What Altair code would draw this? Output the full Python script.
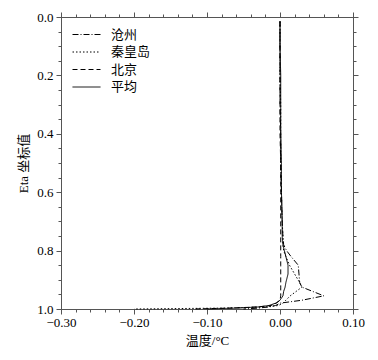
import altair as alt
import pandas as pd

eta = [0.015, 0.1, 0.2, 0.3, 0.4, 0.5, 0.6, 0.7, 0.75, 0.78, 0.80, 0.82, 0.85,
       0.88, 0.91, 0.925, 0.94, 0.955, 0.97, 0.98, 0.988, 0.993, 0.997, 1.0]

cangzhou = [0.000, 0.000, 0.000, 0.000, 0.001, 0.001, 0.002, 0.003, 0.004, 0.005,
            0.009, 0.015, 0.025, 0.026, 0.027, 0.030, 0.045, 0.060, 0.030, 0.000,
            -0.006, -0.015, -0.030, -0.050]
qinhuangdao = [0.000, 0.000, 0.000, 0.001, 0.001, 0.001, 0.002, 0.003, 0.004, 0.004,
               0.005, 0.008, 0.013, 0.020, 0.027, 0.030, 0.022, 0.014, 0.008, 0.004,
               -0.002, -0.020, -0.080, -0.200]
beijing = [0.000, 0.000, 0.000, 0.000, 0.000, 0.001, 0.001, 0.001, 0.001, 0.001,
           0.001, 0.001, 0.001, 0.001, 0.001, 0.001, 0.001, 0.001, 0.000, -0.005,
           -0.012, -0.030, -0.070, -0.120]
average = [0.000, 0.000, 0.001, 0.001, 0.001, 0.002, 0.002, 0.003, 0.003, 0.004,
           0.006, 0.008, 0.011, 0.011, 0.008, 0.007, 0.005, 0.004, 0.000, -0.006,
           -0.015, -0.030, -0.060, -0.100]

names = ["沧州", "秦皇岛", "北京", "平均"]
series = [cangzhou, qinhuangdao, beijing, average]
dashes = [[6, 2, 1, 2], [1.5, 2], [5, 3], [1, 0]]

x_major = [-0.3, -0.2, -0.1, 0.0, 0.1]
x_minor = [-0.28, -0.26, -0.24, -0.22, -0.18, -0.16, -0.14, -0.12, -0.08, -0.06,
           -0.04, -0.02, 0.02, 0.04, 0.06, 0.08]
y_major = [0.0, 0.2, 0.4, 0.6, 0.8, 1.0]
y_minor = [0.05, 0.1, 0.15, 0.25, 0.3, 0.35, 0.45, 0.5, 0.55, 0.65, 0.7, 0.75,
           0.85, 0.9, 0.95]

rows = []
for n, vals in zip(names, series):
    for e, v in zip(eta, vals):
        rows.append({"station": n, "eta": e, "temp": v})
df = pd.DataFrame(rows)

FONT = "Liberation Serif, Noto Sans CJK SC"
AX = "#555555"
xs = alt.Scale(domain=[-0.3, 0.1], nice=False, zero=False)
ys = alt.Scale(domain=[0, 1], reverse=True, nice=False, zero=False)

common = dict(domainColor=AX, tickColor=AX, domainWidth=1, tickWidth=1, grid=False,
              labelFont=FONT, titleFont=FONT, labelColor="black", titleColor="black",
              labelFontSize=13, titleFontSize=13, titleFontWeight="normal",
              labelFlush=False)

def blank_axis(orient, values, size, domain=True):
    return alt.Axis(orient=orient, values=values, tickSize=size, labels=False, title=None,
                    domain=domain, domainColor=AX, tickColor=AX, grid=False, ticks=True)

main = alt.Chart(df).mark_line(color="black", strokeWidth=1).encode(
    x=alt.X("temp:Q", scale=xs,
            axis=alt.Axis(orient="bottom", values=x_major, format=".2f", title="温度/°C",
                          tickSize=5, labelPadding=2, titlePadding=5, **common)),
    y=alt.Y("eta:Q", scale=ys,
            axis=alt.Axis(orient="left", values=y_major, format=".1f", title="Eta 坐标值",
                          tickSize=5, labelPadding=3, titlePadding=6, **common)),
    strokeDash=alt.StrokeDash("station:N", scale=alt.Scale(domain=names, range=dashes),
                              legend=alt.Legend(orient="none", legendX=18, legendY=10, title=None,
                                                symbolType="M-2,0H2", symbolSize=196,
                                                symbolStrokeColor="black", symbolStrokeWidth=1,
                                                symbolFillColor="transparent",
                                                labelFont=FONT, labelFontSize=13,
                                                labelColor="black", rowPadding=2.5,
                                                labelOffset=17)),
    order="eta:Q",
)

def ghost(xa, ya):
    return alt.Chart(df).mark_line(opacity=0).encode(
        x=alt.X("temp:Q", scale=xs, axis=xa),
        y=alt.Y("eta:Q", scale=ys, axis=ya),
        detail="station:N",
        order="eta:Q",
    )

l2 = ghost(blank_axis("bottom", x_minor, 3), blank_axis("left", y_minor, 3))
l3 = ghost(blank_axis("top", x_major, 5), blank_axis("right", y_major, 5))
l4 = ghost(blank_axis("top", x_minor, 3), blank_axis("right", y_minor, 3))

chart = alt.layer(main, l2, l3, l4).resolve_axis(x="independent", y="independent").properties(
    width=292, height=292,
    autosize=alt.AutoSizeParams(type="none"),
    padding={"left": 53, "top": 9, "right": 17, "bottom": 42},
).configure_view(stroke=None).configure(background="white")

chart.save("out.html", embed_options={"renderer": "svg", "actions": False})
